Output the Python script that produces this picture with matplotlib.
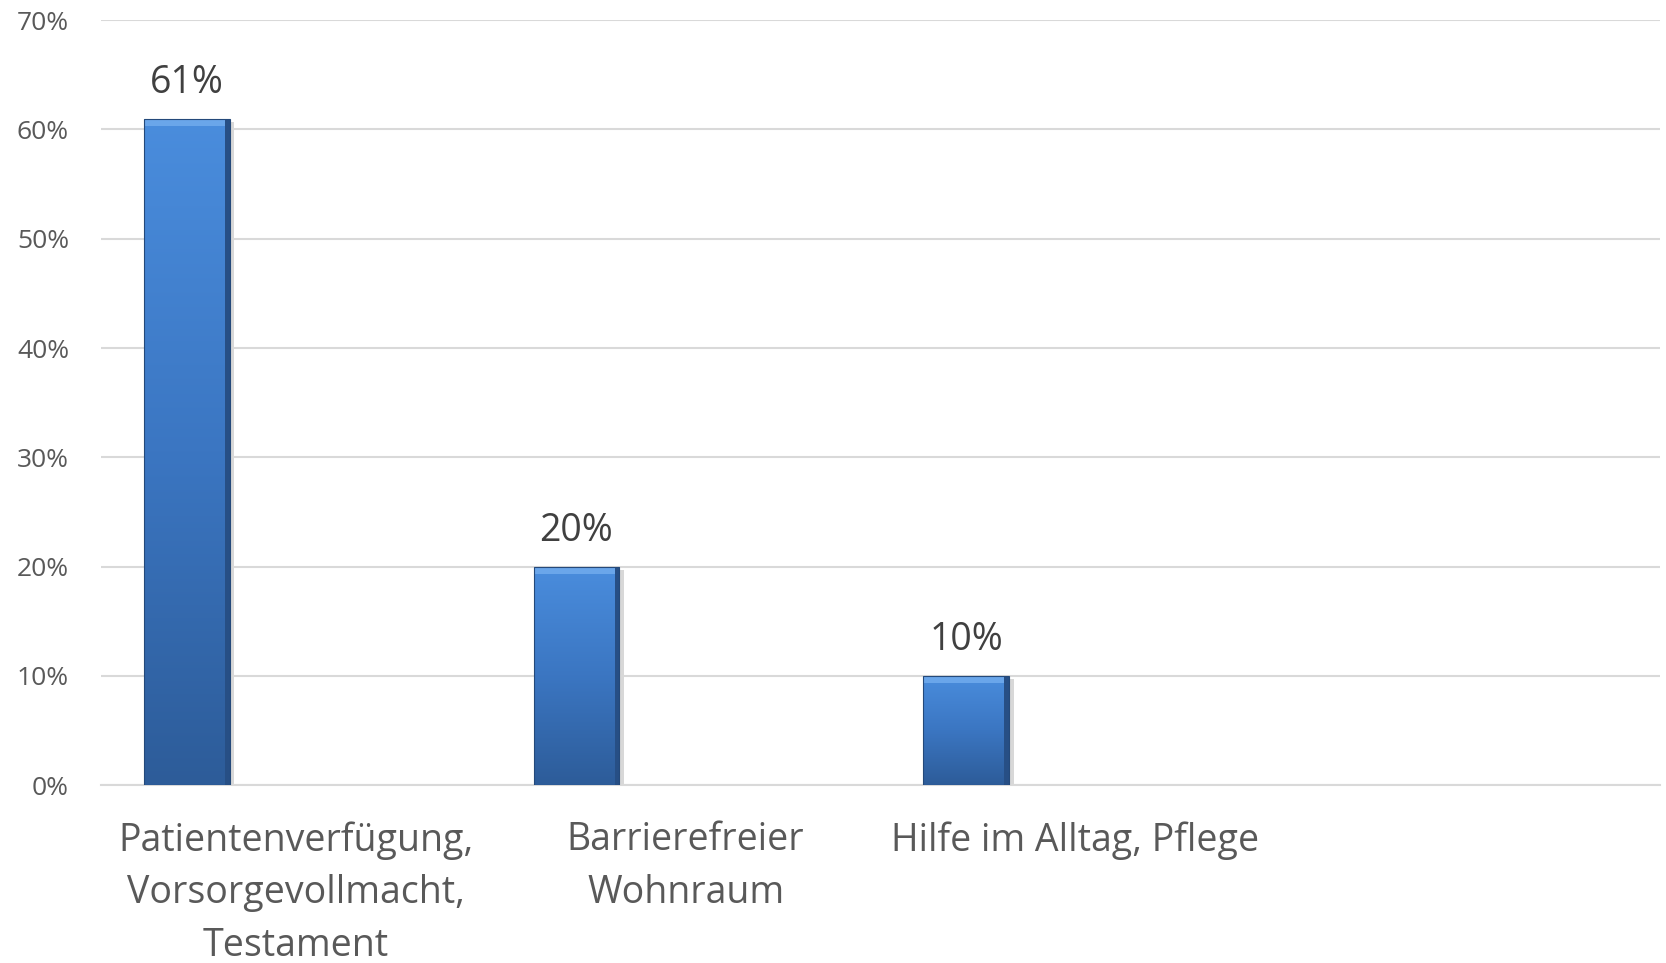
import matplotlib.pyplot as plt
import numpy as np
from matplotlib.colors import LinearSegmentedColormap
from matplotlib.ticker import PercentFormatter

# === DATOS ===
categories = ["Patientenverfügung,\nVorsorgevollmacht,\nTestament",
              "Barrierefreier\nWohnraum",
              "Hilfe im Alltag, Pflege",
              ""]
values = [61, 20, 10, None]
value_labels = ["61%", "20%", "10%"]

plt.rcParams['font.family'] = ['Open Sans', 'DejaVu Sans']

fig = plt.figure(figsize=(16.66, 9.63), dpi=100)
ax = fig.add_axes([0.0606, 0.1848, 0.9358, 0.7942])

x = np.arange(len(categories))
grad = LinearSegmentedColormap.from_list("bar", ["#2d5c99", "#3b76c2", "#4a8ddd"])
img = np.linspace(0, 1, 256).reshape(-1, 1)

for i, v in enumerate(values):
    if v is None:
        continue
    xc = x[i] - 0.28
    w = 0.22
    # sombra suave
    ax.bar(xc + 0.006, v, width=w + 0.012, bottom=-0.3, color="#d8d8d8", zorder=2)
    bar = ax.bar(xc, v, width=w, color="none", edgecolor="#24497a", linewidth=0.8, zorder=4)[0]
    im = ax.imshow(img, cmap=grad, aspect="auto", origin="lower",
                   extent=[xc - w / 2, xc + w / 2, 0, v], zorder=3)
    im.set_clip_path(bar)
    # bisel superior y lateral
    ax.bar(xc, 0.7, width=w, bottom=v - 0.7, color="#6aa6ea", zorder=3.5)
    ax.bar(xc + w / 2 - 0.006, v, width=0.012, color="#274f85", zorder=3.5)
    ax.text(xc, v + 1.5, value_labels[i], ha="center", va="bottom",
            fontsize=27, color="#404040")

ax.set_xlim(-0.5, len(categories) - 0.5)
ax.set_ylim(0, 70)
ax.yaxis.set_major_locator(plt.MultipleLocator(10))
ax.yaxis.set_major_formatter(PercentFormatter(decimals=0))
ax.set_xticks(x)
ax.set_xticklabels(categories, fontsize=27, color="#595959", linespacing=1.5)
ax.tick_params(axis="x", length=0, pad=26)
ax.tick_params(axis="y", length=0, labelsize=19, labelcolor="#595959", pad=23)

ax.grid(axis="y", color="#d9d9d9", linewidth=1.5, zorder=0)
ax.set_axisbelow(True)
for s in ["top", "right", "left"]:
    ax.spines[s].set_visible(False)
ax.spines["bottom"].set_color("#d9d9d9")
ax.spines["bottom"].set_linewidth(1.5)

fig.savefig("out.png", dpi=100)
